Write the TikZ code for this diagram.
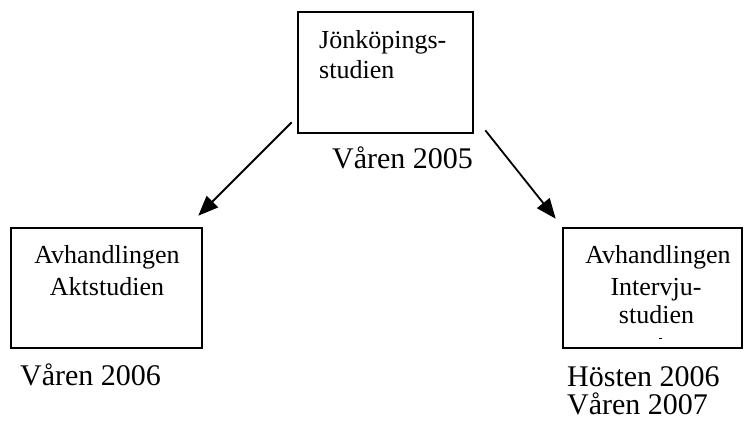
\documentclass[tikz,border=0pt]{standalone}
\usepackage{fontspec}
\setmainfont{Liberation Serif}
\usetikzlibrary{arrows.meta,calc}
\begin{document}
\begin{tikzpicture}[x=1pt,y=-1pt,
  box/.style={draw=black,line width=2.6pt,rectangle,inner sep=0pt},
  boxtxt/.style={inner sep=0pt,font=\fontsize{26}{31}\selectfont},
  datetxt/.style={inner sep=0pt,anchor=base west,font=\fontsize{30}{34}\selectfont},
  arr/.style={line width=1.8pt,-{Triangle[length=20pt,width=16pt]}}]
\useasboundingbox (0,0) rectangle (747,421);
% boxes
\node[box,minimum width=175pt,minimum height=121pt] (top) at (385.5,72.5) {};
\node[box,minimum width=191pt,minimum height=120pt] (left) at (106.5,288) {};
\node[box,minimum width=179pt,minimum height=120pt] (right) at (652.5,288) {};
% box texts
\node[boxtxt,anchor=base west] (t1) at (319,48) {Jönköpings-};
\node[boxtxt,anchor=base west] (t2) at (319,78) {studien};
\node[boxtxt,anchor=base] (l1) at (107,263) {Avhandlingen};
\node[boxtxt,anchor=base] (l2) at (107,295) {Aktstudien};
\node[boxtxt,anchor=base] (r1) at (658,263) {Avhandlingen};
\node[boxtxt,anchor=base] (r2) at (656,295) {Intervju-};
\node[boxtxt,anchor=base] (r3) at (656.5,323) {studien};
\draw[line width=0.8pt] (659,338) -- (661.5,338);
% dates
\node[datetxt] (d1) at (332,168) {Våren 2005};
\node[datetxt] (d2) at (20,385) {Våren 2006};
\node[datetxt] (d3) at (567,386) {Hösten 2006};
\node[datetxt] (d4) at (567,414) {Våren 2007};
% arrows
\coordinate (a1s) at ($(top.south west)+(-5,-12)$);
\coordinate (a1e) at ($(left.north east)+(-5,-11)$);
\coordinate (a2s) at ($(top.south east)+(11,-4)$);
\coordinate (a2e) at ($(right.north west)+(-6,-8)$);
\draw[arr] (a1s) -- (a1e);
\draw[arr] (a2s) -- (a2e);
\end{tikzpicture}
\end{document}
